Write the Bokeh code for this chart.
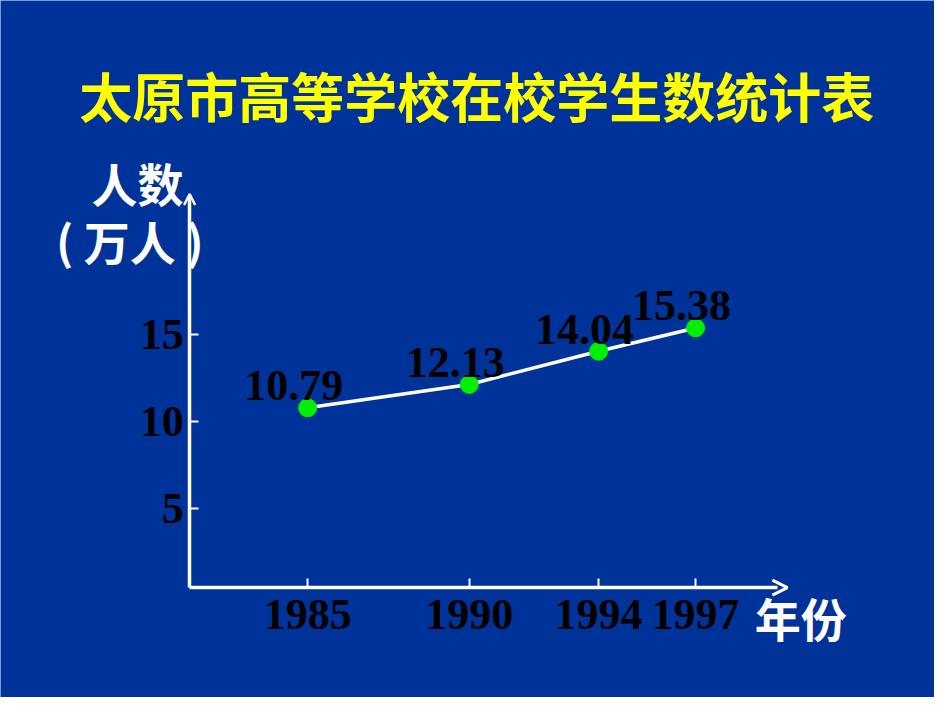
from bokeh.plotting import figure
from bokeh.models import (ColumnDataSource, Range1d, FixedTicker, Label,
                          Arrow, OpenHead, LinearAxis)
from bokeh.core.properties import value
from bokeh.embed import file_html
from bokeh.resources import INLINE

# data
years = [1985, 1990, 1994, 1997]
students = [10.79, 12.13, 14.04, 15.38]   # 万人
y_ticks = [5, 10, 15]
x_ticks = years

TITLE = "太原市高等学校在校学生数统计表"
Y_LABEL_1 = "人数"
Y_LABEL_2 = "( 万人 )"
X_LABEL = "年份"

BG = "#003399"
NUM_FONT = "Liberation Serif"
CJK_FONT = "Noto Sans CJK SC"

source = ColumnDataSource(data=dict(
    year=years,
    students=students,
    label=["%.2f" % v for v in students],
))

# the frame fills the whole canvas, axes sit at fixed data positions
ax_x, ax_y = 1981.35, 0.46        # where the two axes cross
x_end, y_end = 1999.54, 22.93     # far ends of the axis lines

p = figure(width=934, height=697,
           x_range=Range1d(1975.50, 2004.39), y_range=Range1d(-5.86, 34.20),
           x_axis_location=None, y_axis_location=None,
           output_backend="svg", toolbar_location=None, min_border=0,
           background_fill_color=BG, border_fill_color=BG,
           outline_line_color=None)

p.grid.visible = False

xaxis = LinearAxis(fixed_location=ax_y, bounds=(ax_x, x_end),
                   ticker=FixedTicker(ticks=x_ticks))
yaxis = LinearAxis(fixed_location=ax_x, bounds=(ax_y, y_end),
                   ticker=FixedTicker(ticks=y_ticks))
p.add_layout(xaxis, "below")
p.add_layout(yaxis, "left")

for ax in (xaxis, yaxis):
    ax.axis_line_color = "white"
    ax.axis_line_width = 3.5
    ax.major_tick_line_color = "white"
    ax.major_tick_line_width = 2
    ax.major_tick_in = 9
    ax.major_tick_out = 0
    ax.minor_tick_line_color = None
    ax.major_label_text_font = NUM_FONT
    ax.major_label_text_font_style = "bold"
    ax.major_label_text_font_size = "44px"
    ax.major_label_text_color = "black"

xaxis.major_label_standoff = 12
yaxis.major_label_standoff = 6

# axis arrow heads
p.add_layout(Arrow(end=OpenHead(size=11, line_color="white", line_width=2.5),
                   x_start=ax_x, y_start=y_end - 1, x_end=ax_x, y_end=y_end + 0.15,
                   line_alpha=0))
p.add_layout(Arrow(end=OpenHead(size=15, line_color="white", line_width=3),
                   x_start=x_end - 1, y_start=ax_y, x_end=x_end + 0.3, y_end=ax_y,
                   line_alpha=0))

p.line("year", "students", source=source, line_color="white", line_width=3.5)
p.scatter("year", "students", source=source, size=18,
          fill_color="#00f000", line_color="#00f000")
p.text("year", "students", text="label", source=source,
       x_offset=-14, y_offset=-22,
       text_align="center", text_baseline="alphabetic",
       text_font=value(NUM_FONT), text_font_style="bold",
       text_font_size="44px", text_color="black")

p.add_layout(Label(x=1990.23, y=28.75, text=TITLE,
                   text_align="center", text_baseline="middle",
                   text_font=CJK_FONT, text_font_style="bold",
                   text_font_size="53px", text_color="#ffff00"))
p.add_layout(Label(x=1979.74, y=23.79, text=Y_LABEL_1,
                   text_align="center", text_baseline="middle",
                   text_font=CJK_FONT, text_font_style="bold",
                   text_font_size="46px", text_color="white"))
p.add_layout(Label(x=1979.50, y=20.45, text=Y_LABEL_2,
                   text_align="center", text_baseline="middle",
                   text_font=CJK_FONT, text_font_style="bold",
                   text_font_size="46px", text_color="white"))
p.add_layout(Label(x=2000.25, y=-1.25, text=X_LABEL,
                   text_align="center", text_baseline="middle",
                   text_font=CJK_FONT, text_font_style="bold",
                   text_font_size="46px", text_color="white"))

open("out.html", "w").write(file_html(p, INLINE))
